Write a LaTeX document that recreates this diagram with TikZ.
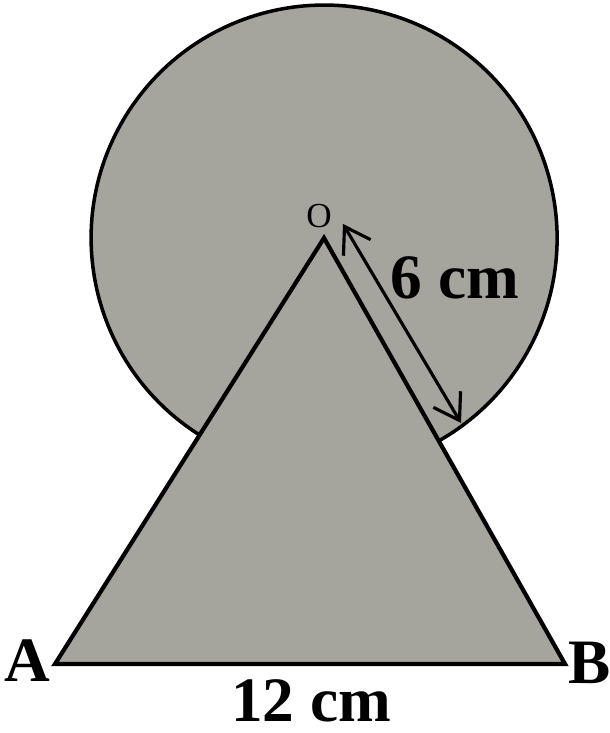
\documentclass[tikz,border=0pt]{standalone}
\usepackage{fontspec}
\setmainfont{Liberation Serif}
\usetikzlibrary{calc,arrows.meta}

\definecolor{shadegray}{RGB}{165,165,157}

\begin{document}
\begin{tikzpicture}[>={Straight Barb[length=7pt,width=9pt]},
  lbl/.style={font=\fontsize{18}{20}\selectfont\bfseries, inner sep=0pt}]
  \useasboundingbox (0,0) rectangle (6.10,7.33);
  % Vertices of the triangle; O is also the centre of the circle.
  \coordinate (O) at (3.24,4.95);
  \coordinate (A) at (0.55,0.69);
  \coordinate (B) at (5.65,0.69);
  % Where the circle (radius 2.33) meets the sides OA and OB.
  \coordinate (P) at ($(O)!2.33cm!(A)$);
  \coordinate (Q) at ($(O)!2.33cm!(B)$);
  % Shaded region: circle and triangle together.
  \fill[shadegray] (P) arc[start angle=237.7, end angle=-60.5, radius=2.33]
    -- (B) -- (A) -- cycle;
  \draw[line width=1pt] (P) arc[start angle=237.7, end angle=-60.5, radius=2.33];
  \draw[line width=1.2pt, line join=miter] (O) -- (A) -- (B) -- cycle;
  % Radius marker beside OB.
  \coordinate (r1) at (3.43,5.09);
  \coordinate (r2) at (4.61,3.10);
  \draw[<->, line width=0.9pt] (r1) -- (r2);
  % Labels.
  \node[font=\fontsize{10}{12}\selectfont, inner sep=0pt] (o) at (3.19,5.17) {O};
  \node[lbl] (six) at (4.55,4.55) {6 cm};
  \node[lbl] (a) at (0.27,0.72) {A};
  \node[lbl] (b) at (5.90,0.70) {B};
  \node[lbl] (base) at (3.11,0.32) {12 cm};
\end{tikzpicture}
\end{document}
